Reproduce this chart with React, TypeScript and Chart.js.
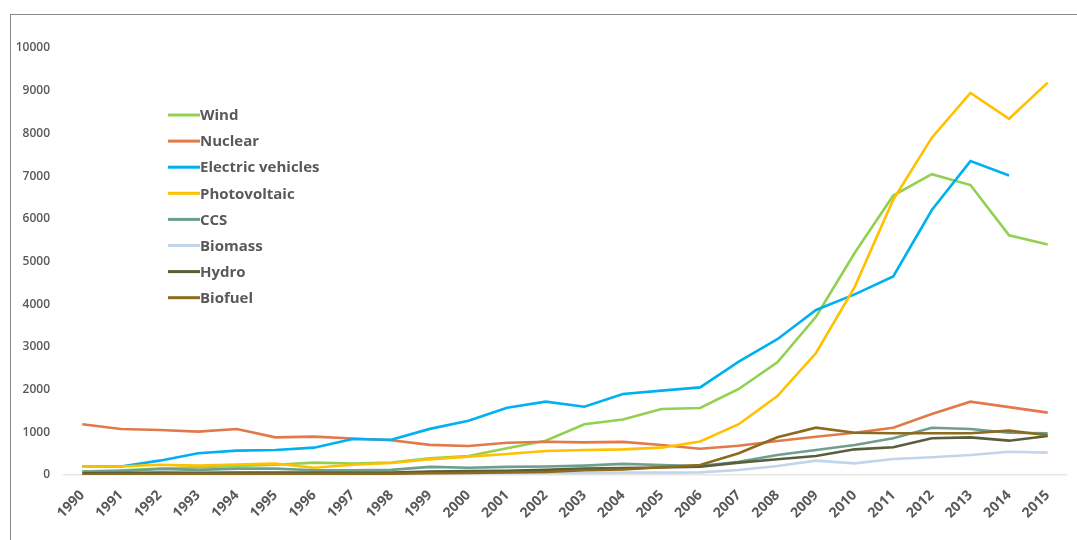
import React, { useEffect, useRef } from "react";
import { Chart, registerables } from "chart.js";

Chart.register(...registerables);

const years = ["1990","1991","1992","1993","1994","1995","1996","1997","1998","1999","2000","2001","2002","2003","2004","2005","2006","2007","2008","2009","2010","2011","2012","2013","2014","2015"];

const wind = [80,110,150,180,210,240,290,270,290,390,445,625,804,1190,1300,1545,1570,2015,2640,3705,5200,6545,7045,6790,5615,5400];
const nuclear = [1187,1077,1054,1015,1077,882,899,855,815,705,680,757,780,765,775,702,615,686,796,897,990,1108,1428,1717,1590,1460];
const electricVehicles = [195,200,336,508,570,585,640,843,826,1080,1272,1577,1717,1600,1897,1975,2052,2656,3180,3865,4230,4649,6206,7350,7012,null];
const photovoltaic = [195,200,240,220,245,270,170,240,280,367,430,492,562,585,600,640,786,1190,1850,2857,4400,6447,7900,8946,8342,9190];
const ccs = [80,90,140,120,150,150,110,110,120,190,170,190,200,220,260,234,211,312,468,585,702,859,1108,1077,990,976];
const biomass = [30,30,40,40,50,50,40,40,40,50,50,50,50,50,55,55,62,117,210,336,273,374,414,468,546,523];
const hydro = [40,45,60,50,60,60,55,55,60,80,90,100,120,150,160,175,195,289,367,445,601,648,859,882,804,913];
const biofuel = [10,15,20,20,25,25,25,30,30,40,50,60,70,110,130,180,234,508,882,1108,991,976,976,976,1038,930];

const seriesNames = ["Wind","Nuclear","Electric vehicles","Photovoltaic","CCS","Biomass","Hydro","Biofuel"];
const seriesValues = [wind, nuclear, electricVehicles, photovoltaic, ccs, biomass, hydro, biofuel];
const seriesColors = ["#92D050","#E2794A","#00B0F0","#FFC000","#6E9E8C","#C3D5EA","#5A5E3A","#8C6A1E"];

const TEXT = "#595959";
const FONT = "'Open Sans', 'DejaVu Sans', sans-serif";

const legendPlugin = {
  id: "customLegend",
  afterDraw(chart: any) {
    const ctx = chart.ctx;
    ctx.save();
    chart.data.datasets.forEach((ds: any, i: number) => {
      const y = 115 + i * 26.1;
      ctx.strokeStyle = ds.borderColor;
      ctx.lineWidth = 3;
      ctx.beginPath();
      ctx.moveTo(168, y);
      ctx.lineTo(200, y);
      ctx.stroke();
      ctx.fillStyle = TEXT;
      ctx.font = `700 15px ${FONT}`;
      ctx.textAlign = "left";
      ctx.textBaseline = "middle";
      ctx.fillText(ds.label, 200, y + 1);
    });
    ctx.restore();
  },
};

export default function App() {
  const ref = useRef<HTMLCanvasElement | null>(null);

  useEffect(() => {
    if (!ref.current) return;
    const n = seriesNames.length;
    const chart = new Chart(ref.current, {
      type: "line",
      data: {
        labels: years,
        datasets: seriesNames.map((name, i) => ({
          label: name,
          data: seriesValues[i],
          borderColor: seriesColors[i],
          backgroundColor: seriesColors[i],
          borderWidth: 2.6,
          pointRadius: 0,
          tension: 0,
          fill: false,
          spanGaps: false,
          order: n - 1 - i,
        })),
      },
      options: {
        responsive: false,
        animation: false,
        layout: { padding: { left: 0, top: 48, right: 10, bottom: 0 } },
        plugins: {
          legend: { display: false },
          tooltip: { enabled: false },
          title: { display: false },
        },
        scales: {
          x: {
            type: "category",
            offset: true,
            grid: { display: false, drawTicks: false },
            border: { display: false },
            ticks: {
              minRotation: 45,
              maxRotation: 45,
              autoSkip: false,
              color: TEXT,
              padding: 12,
              font: { family: FONT, size: 14, weight: "700" },
            },
            afterFit: (s: any) => { s.height = 65; },
          },
          y: {
            min: 0,
            max: 10000,
            grid: {
              display: true,
              drawTicks: false,
              lineWidth: 1.5,
              color: (c: any) => (c.tick && c.tick.value === 0 ? "#e6e6e6" : "rgba(0,0,0,0)"),
            },
            border: { display: false },
            ticks: {
              stepSize: 1000,
              color: TEXT,
              padding: 13,
              font: { family: FONT, size: 12, weight: "600" },
              callback: (v: any) => String(v),
            },
            afterFit: (s: any) => { s.width = 63; },
          },
        },
      },
      plugins: [legendPlugin],
    });
    return () => chart.destroy();
  }, []);

  return (
    <div style={{ position: "absolute", left: 0, top: 0, width: 1077, height: 540, background: "#fff", overflow: "hidden" }}>
      <canvas ref={ref} width={1077} height={540} style={{ position: "absolute", left: 0, top: 0, display: "block" }} />
      <div style={{ position: "absolute", left: 10, top: 14, width: 1067, height: 526, borderTop: "1.5px solid #8a8a8a", borderLeft: "1.5px solid #8a8a8a", boxSizing: "border-box", pointerEvents: "none" }} />
    </div>
  );
}
